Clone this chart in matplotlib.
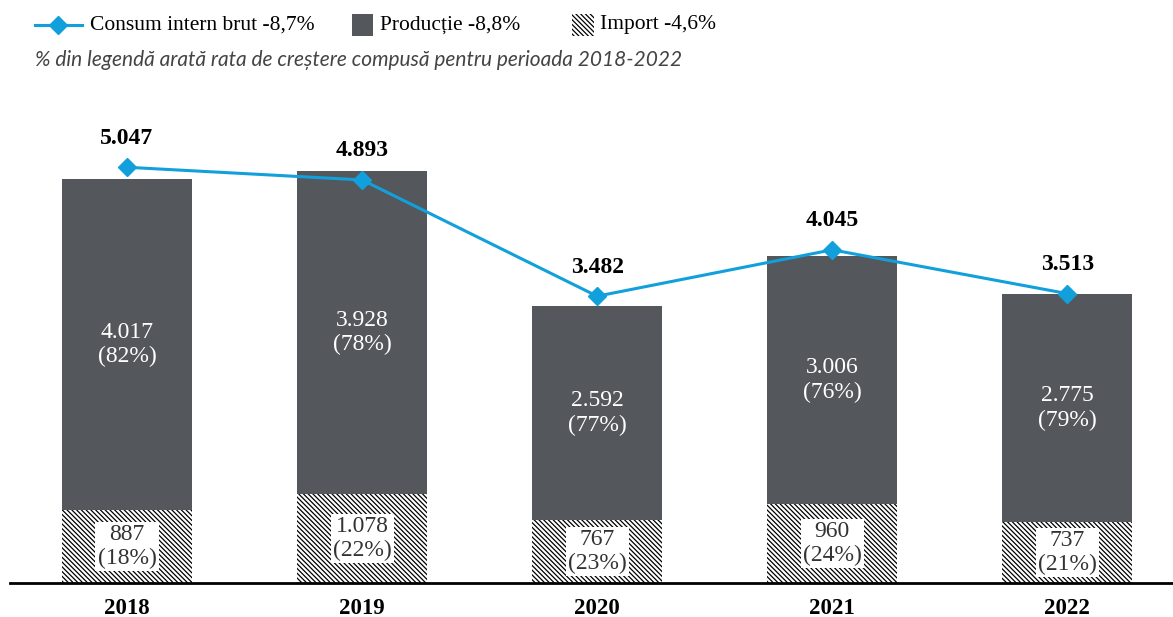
import matplotlib.pyplot as plt
from matplotlib.patches import Rectangle
from matplotlib.lines import Line2D

# date (mii tep)
ani = ["2018", "2019", "2020", "2021", "2022"]
productie = [4017, 3928, 2592, 3006, 2775]
importuri = [887, 1078, 767, 960, 737]
consum = [5047, 4893, 3482, 4045, 3513]

bar_color = "#54575c"
line_color = "#12a0dc"
serif = "Liberation Serif"
hatch = "\\" * 7

def fmt(v):
    return f"{v:,}".replace(",", ".")

W, H = 1173, 617
fig = plt.figure(figsize=(W / 100, H / 100), dpi=100)
plt.rcParams["hatch.linewidth"] = 0.9

def fx(px):
    return px / W

def fy(py):
    return 1 - py / H

ax = fig.add_axes([fx(10), fy(583), fx(1173) - fx(10), fy(97) - fy(583)])

x = list(range(len(ani)))
ax.bar(x, importuri, width=0.555, color="white", edgecolor="black",
       hatch=hatch, linewidth=0)
ax.bar(x, productie, width=0.555, bottom=importuri, color=bar_color, linewidth=0)
ax.plot(x, consum, color=line_color, lw=2.2, marker="D", ms=9.5, zorder=5)

for i in x:
    tot = productie[i] + importuri[i]
    pp = round(productie[i] / tot * 100)
    pi = round(importuri[i] / tot * 100)
    ax.text(i, importuri[i] + productie[i] / 2, f"{fmt(productie[i])}\n({pp}%)",
            ha="center", va="center", color="white", fontsize=17,
            family=serif, linespacing=1.22)
    ax.text(i, importuri[i] / 2, f"{fmt(importuri[i])}\n({pi}%)",
            ha="center", va="center", color="#333333", fontsize=17,
            family=serif, linespacing=1.15,
            bbox=dict(facecolor="white", edgecolor="none", pad=1.5))
    ax.annotate(fmt(consum[i]), (i, consum[i]), xytext=(0, 21),
                textcoords="offset points", ha="center", va="center",
                fontsize=17, fontweight="bold", family=serif)

ax.set_xlim(-0.498, 4.45)
ax.set_ylim(0, 5900)
ax.set_xticks(x)
ax.set_xticklabels(ani, fontsize=16.5, fontweight="bold", family=serif)
ax.tick_params(axis="x", length=0, pad=11)
ax.set_yticks([])
for s in ["top", "right", "left"]:
    ax.spines[s].set_visible(False)
ax.spines["bottom"].set_linewidth(2)

# legenda
yl = fy(25)
fig.add_artist(Line2D([fx(35), fx(82)], [yl, yl], color=line_color, lw=2.2))
fig.add_artist(Line2D([fx(58)], [yl], color=line_color, marker="D", ms=9.5, lw=0))
fig.text(fx(90), yl, "Consum intern brut -8,7%", va="center", fontsize=15.5, family=serif)
fig.add_artist(Rectangle((fx(352), fy(36)), fx(21), fy(14) - fy(36),
                         facecolor=bar_color, edgecolor="none"))
fig.text(fx(380), yl, "Producție -8,8%", va="center", fontsize=15.5, family=serif)
fig.add_artist(Rectangle((fx(572), fy(36)), fx(22), fy(14) - fy(36),
                         facecolor="white", edgecolor="black", hatch=hatch, lw=0))
fig.text(fx(600), yl, "Import -4,6%", va="center", fontsize=15.5, family=serif)

fig.text(fx(35), fy(60), "% din legendă arată rata de creștere compusă pentru perioada 2018-2022",
         va="center", fontsize=15, style="italic", color="#444444", family="Lato")

fig.savefig("out.png", dpi=100)
